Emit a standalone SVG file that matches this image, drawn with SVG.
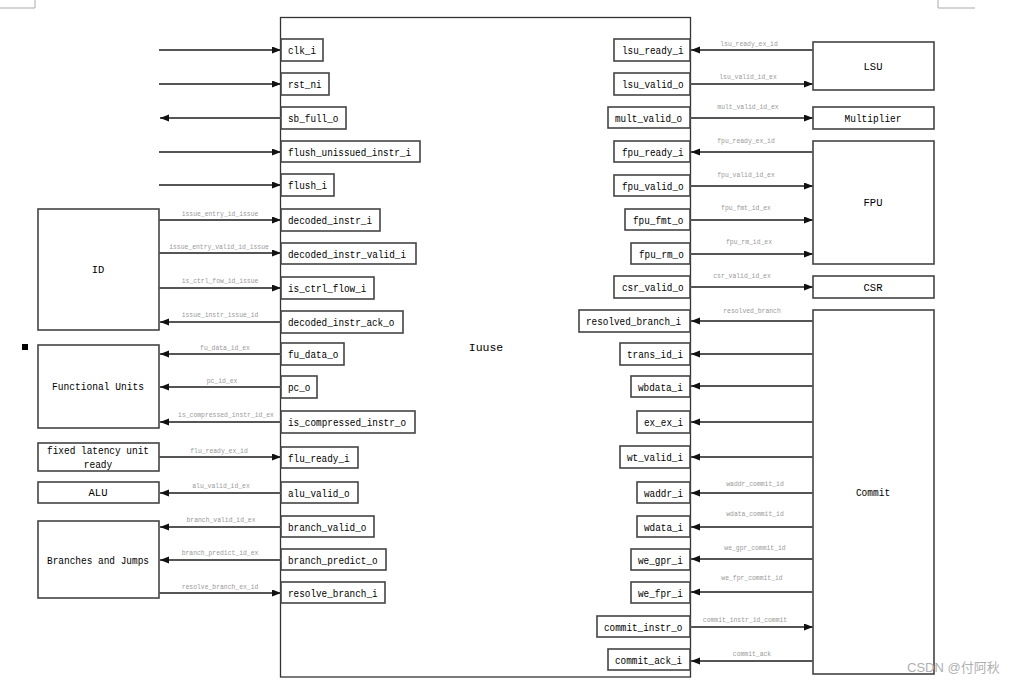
<svg xmlns="http://www.w3.org/2000/svg" width="1023" height="684" viewBox="0 0 1023 684">
<style>
.bx{fill:#fff;stroke:#444;stroke-width:1.6}
.pt{font-family:"Liberation Mono",monospace;font-size:10.5px;fill:#000}
.bl{font-family:"Liberation Mono",monospace;font-size:10.5px;fill:#000;text-anchor:middle}
.lb{font-family:"Liberation Mono",monospace;font-size:6.4px;fill:#999;text-anchor:middle}
.ln{stroke:#555;stroke-width:1.8;fill:none;marker-end:url(#ah)}
.cm{stroke:#aaa;stroke-width:1;fill:none}
</style>
<defs>
<marker id="ah" markerUnits="userSpaceOnUse" markerWidth="10" markerHeight="8" refX="9" refY="3.5" orient="auto">
<path d="M0,0 L9,3.5 L0,7 z" fill="#111"/>
</marker>
</defs>
<rect width="1023" height="684" fill="#fff"/>
<g id="cropmarks">
<path class="cm" d="M35,0 V8 H0"/>
<path class="cm" d="M938,0 V8 H975"/>
</g>
<rect x="22" y="344" width="6" height="6" fill="#000"/>
<g id="issue">
<rect x="280.5" y="17.5" width="410" height="659.5" fill="#fff" stroke="#333" stroke-width="1.3"/>
<text class="bl" x="486" y="351" style="font-size:11.5px">Iuuse</text>
</g>
<g id="ID"><rect class="bx" x="38" y="209" width="121" height="121"/><text class="bl" x="98" y="273">ID</text></g>
<g id="FunctionalUnits"><rect class="bx" x="38" y="345" width="121" height="83"/><text class="bl" x="98" y="390" textLength="92" lengthAdjust="spacingAndGlyphs">Functional Units</text></g>
<g id="FixedLatency"><rect class="bx" x="38" y="443" width="121" height="28"/><text class="bl" x="98" y="454" textLength="102" lengthAdjust="spacingAndGlyphs">fixed latency unit</text><text class="bl" x="98" y="468" textLength="28.5" lengthAdjust="spacingAndGlyphs">ready</text></g>
<g id="ALU"><rect class="bx" x="38" y="482" width="121" height="21"/><text class="bl" x="98" y="496">ALU</text></g>
<g id="Branches"><rect class="bx" x="38" y="521" width="121" height="77"/><text class="bl" x="98" y="564" textLength="102" lengthAdjust="spacingAndGlyphs">Branches and Jumps</text></g>
<g id="LSU"><rect class="bx" x="813" y="42" width="121" height="48"/><text class="bl" x="873" y="70">LSU</text></g>
<g id="Multiplier"><rect class="bx" x="813" y="107" width="121" height="22"/><text class="bl" x="873" y="122" textLength="57" lengthAdjust="spacingAndGlyphs">Multiplier</text></g>
<g id="FPU"><rect class="bx" x="813" y="141" width="121" height="123"/><text class="bl" x="873" y="206">FPU</text></g>
<g id="CSR"><rect class="bx" x="813" y="276" width="121" height="22"/><text class="bl" x="873" y="291">CSR</text></g>
<g id="Commit"><rect class="bx" x="813" y="310" width="121" height="364"/><text class="bl" x="873" y="496" textLength="34.2" lengthAdjust="spacingAndGlyphs">Commit</text></g>
<g id="leftports">
<g id="p_clk_i"><rect class="bx" x="281" y="39" width="42" height="22"/><text class="pt" x="288" y="54" textLength="28" lengthAdjust="spacingAndGlyphs">clk_i</text></g>
<g id="p_rst_ni"><rect class="bx" x="281" y="73" width="48" height="22"/><text class="pt" x="288" y="88" textLength="33.6" lengthAdjust="spacingAndGlyphs">rst_ni</text></g>
<g id="p_sb_full_o"><rect class="bx" x="281" y="107" width="65" height="22"/><text class="pt" x="288" y="122" textLength="50.4" lengthAdjust="spacingAndGlyphs">sb_full_o</text></g>
<g id="p_flush_unissued_instr_i"><rect class="bx" x="281" y="141" width="139" height="21"/><text class="pt" x="288" y="155.5" textLength="123" lengthAdjust="spacingAndGlyphs">flush_unissued_instr_i</text></g>
<g id="p_flush_i"><rect class="bx" x="281" y="174" width="53" height="22"/><text class="pt" x="288" y="189" textLength="39.2" lengthAdjust="spacingAndGlyphs">flush_i</text></g>
<g id="p_decoded_instr_i"><rect class="bx" x="281" y="209" width="99" height="22"/><text class="pt" x="288" y="224" textLength="84" lengthAdjust="spacingAndGlyphs">decoded_instr_i</text></g>
<g id="p_decoded_instr_valid_i"><rect class="bx" x="281" y="243" width="135" height="21"/><text class="pt" x="288" y="257.5" textLength="118" lengthAdjust="spacingAndGlyphs">decoded_instr_valid_i</text></g>
<g id="p_is_ctrl_flow_i"><rect class="bx" x="281" y="277" width="93" height="22"/><text class="pt" x="288" y="292" textLength="78.4" lengthAdjust="spacingAndGlyphs">is_ctrl_flow_i</text></g>
<g id="p_decoded_instr_ack_o"><rect class="bx" x="281" y="311" width="122" height="22"/><text class="pt" x="288" y="326" textLength="106.4" lengthAdjust="spacingAndGlyphs">decoded_instr_ack_o</text></g>
<g id="p_fu_data_o"><rect class="bx" x="281" y="343" width="63" height="22"/><text class="pt" x="288" y="358" textLength="50.4" lengthAdjust="spacingAndGlyphs">fu_data_o</text></g>
<g id="p_pc_o"><rect class="bx" x="281" y="376" width="36" height="22"/><text class="pt" x="288" y="391" textLength="22.4" lengthAdjust="spacingAndGlyphs">pc_o</text></g>
<g id="p_is_compressed_instr_o"><rect class="bx" x="281" y="411" width="134" height="22"/><text class="pt" x="288" y="426" textLength="118" lengthAdjust="spacingAndGlyphs">is_compressed_instr_o</text></g>
<g id="p_flu_ready_i"><rect class="bx" x="281" y="447" width="77" height="21"/><text class="pt" x="288" y="461.5" textLength="61.6" lengthAdjust="spacingAndGlyphs">flu_ready_i</text></g>
<g id="p_alu_valid_o"><rect class="bx" x="281" y="482" width="77" height="21"/><text class="pt" x="288" y="496.5" textLength="61.6" lengthAdjust="spacingAndGlyphs">alu_valid_o</text></g>
<g id="p_branch_valid_o"><rect class="bx" x="281" y="516" width="93" height="21"/><text class="pt" x="288" y="530.5" textLength="78.4" lengthAdjust="spacingAndGlyphs">branch_valid_o</text></g>
<g id="p_branch_predict_o"><rect class="bx" x="281" y="549" width="105" height="21"/><text class="pt" x="288" y="563.5" textLength="89.6" lengthAdjust="spacingAndGlyphs">branch_predict_o</text></g>
<g id="p_resolve_branch_i"><rect class="bx" x="281" y="582" width="104" height="21"/><text class="pt" x="288" y="596.5" textLength="89.6" lengthAdjust="spacingAndGlyphs">resolve_branch_i</text></g>
</g>
<g id="rightports">
<g id="p_lsu_ready_i"><rect class="bx" x="614" y="39" width="76" height="22"/><text class="pt" x="622" y="54" textLength="61.6" lengthAdjust="spacingAndGlyphs">lsu_ready_i</text></g>
<g id="p_lsu_valid_o"><rect class="bx" x="614" y="73" width="76" height="22"/><text class="pt" x="622" y="88" textLength="61.6" lengthAdjust="spacingAndGlyphs">lsu_valid_o</text></g>
<g id="p_mult_valid_o"><rect class="bx" x="608" y="107" width="82" height="21"/><text class="pt" x="615" y="121.5" textLength="67.2" lengthAdjust="spacingAndGlyphs">mult_valid_o</text></g>
<g id="p_fpu_ready_i"><rect class="bx" x="614" y="141" width="76" height="21"/><text class="pt" x="622" y="155.5" textLength="61.6" lengthAdjust="spacingAndGlyphs">fpu_ready_i</text></g>
<g id="p_fpu_valid_o"><rect class="bx" x="614" y="175" width="76" height="21"/><text class="pt" x="622" y="189.5" textLength="61.6" lengthAdjust="spacingAndGlyphs">fpu_valid_o</text></g>
<g id="p_fpu_fmt_o"><rect class="bx" x="625" y="209" width="65" height="21"/><text class="pt" x="633" y="223.5" textLength="50.4" lengthAdjust="spacingAndGlyphs">fpu_fmt_o</text></g>
<g id="p_fpu_rm_o"><rect class="bx" x="631" y="243" width="59" height="21"/><text class="pt" x="639" y="257.5" textLength="44.8" lengthAdjust="spacingAndGlyphs">fpu_rm_o</text></g>
<g id="p_csr_valid_o"><rect class="bx" x="614" y="276" width="76" height="22"/><text class="pt" x="622" y="291" textLength="61.6" lengthAdjust="spacingAndGlyphs">csr_valid_o</text></g>
<g id="p_resolved_branch_i"><rect class="bx" x="579" y="310" width="111" height="22"/><text class="pt" x="586" y="325" textLength="95.2" lengthAdjust="spacingAndGlyphs">resolved_branch_i</text></g>
<g id="p_trans_id_i"><rect class="bx" x="620" y="343" width="70" height="22"/><text class="pt" x="627" y="358" textLength="56" lengthAdjust="spacingAndGlyphs">trans_id_i</text></g>
<g id="p_wbdata_i"><rect class="bx" x="631" y="376" width="59" height="21"/><text class="pt" x="638" y="390.5" textLength="44.8" lengthAdjust="spacingAndGlyphs">wbdata_i</text></g>
<g id="p_ex_ex_i"><rect class="bx" x="637" y="411" width="53" height="22"/><text class="pt" x="644" y="426" textLength="39.2" lengthAdjust="spacingAndGlyphs">ex_ex_i</text></g>
<g id="p_wt_valid_i"><rect class="bx" x="620" y="446" width="70" height="22"/><text class="pt" x="627" y="461" textLength="56" lengthAdjust="spacingAndGlyphs">wt_valid_i</text></g>
<g id="p_waddr_i"><rect class="bx" x="637" y="482" width="53" height="21"/><text class="pt" x="644" y="496.5" textLength="39.2" lengthAdjust="spacingAndGlyphs">waddr_i</text></g>
<g id="p_wdata_i"><rect class="bx" x="637" y="516" width="53" height="21"/><text class="pt" x="644" y="530.5" textLength="39.2" lengthAdjust="spacingAndGlyphs">wdata_i</text></g>
<g id="p_we_gpr_i"><rect class="bx" x="631" y="549" width="59" height="21"/><text class="pt" x="638" y="563.5" textLength="44.8" lengthAdjust="spacingAndGlyphs">we_gpr_i</text></g>
<g id="p_we_fpr_i"><rect class="bx" x="631" y="582" width="59" height="21"/><text class="pt" x="638" y="596.5" textLength="44.8" lengthAdjust="spacingAndGlyphs">we_fpr_i</text></g>
<g id="p_commit_instr_o"><rect class="bx" x="597" y="616" width="93" height="21"/><text class="pt" x="604" y="630.5" textLength="78.4" lengthAdjust="spacingAndGlyphs">commit_instr_o</text></g>
<g id="p_commit_ack_i"><rect class="bx" x="608" y="649" width="82" height="21"/><text class="pt" x="615" y="663.5" textLength="67.2" lengthAdjust="spacingAndGlyphs">commit_ack_i</text></g>
</g>
<g id="connectors">
<line class="ln" x1="159" y1="50" x2="281" y2="50"/>
<line class="ln" x1="159" y1="84" x2="281" y2="84"/>
<line class="ln" x1="281" y1="118" x2="160" y2="118"/>
<line class="ln" x1="159" y1="152" x2="281" y2="152"/>
<line class="ln" x1="159" y1="185" x2="281" y2="185"/>
<line class="ln" x1="159" y1="220" x2="281" y2="220"/>
<line class="ln" x1="159" y1="253" x2="281" y2="253"/>
<line class="ln" x1="159" y1="288" x2="281" y2="288"/>
<line class="ln" x1="281" y1="322" x2="160" y2="322"/>
<line class="ln" x1="281" y1="354" x2="160" y2="354"/>
<line class="ln" x1="281" y1="387" x2="160" y2="387"/>
<line class="ln" x1="281" y1="422" x2="160" y2="422"/>
<line class="ln" x1="159" y1="457" x2="281" y2="457"/>
<line class="ln" x1="281" y1="493" x2="160" y2="493"/>
<line class="ln" x1="281" y1="527" x2="160" y2="527"/>
<line class="ln" x1="281" y1="560" x2="160" y2="560"/>
<line class="ln" x1="159" y1="593" x2="281" y2="593"/>
<line class="ln" x1="813" y1="50" x2="691" y2="50"/>
<line class="ln" x1="690" y1="84" x2="813" y2="84"/>
<line class="ln" x1="690" y1="118" x2="813" y2="118"/>
<line class="ln" x1="813" y1="152" x2="691" y2="152"/>
<line class="ln" x1="690" y1="186" x2="813" y2="186"/>
<line class="ln" x1="690" y1="220" x2="813" y2="220"/>
<line class="ln" x1="690" y1="254" x2="813" y2="254"/>
<line class="ln" x1="690" y1="287" x2="813" y2="287"/>
<line class="ln" x1="813" y1="321" x2="691" y2="321"/>
<line class="ln" x1="813" y1="354" x2="691" y2="354"/>
<line class="ln" x1="813" y1="386" x2="691" y2="386"/>
<line class="ln" x1="813" y1="422" x2="691" y2="422"/>
<line class="ln" x1="813" y1="457" x2="691" y2="457"/>
<line class="ln" x1="813" y1="493" x2="691" y2="493"/>
<line class="ln" x1="813" y1="527" x2="691" y2="527"/>
<line class="ln" x1="813" y1="559" x2="691" y2="559"/>
<line class="ln" x1="813" y1="592" x2="691" y2="592"/>
<line class="ln" x1="690" y1="627" x2="813" y2="627"/>
<line class="ln" x1="813" y1="661" x2="691" y2="661"/>
<g id="connector-labels">
<text class="lb" x="220" y="216">issue_entry_id_issue</text>
<text class="lb" x="219" y="249">issue_entry_valid_id_issue</text>
<text class="lb" x="220" y="283">is_ctrl_fow_id_issue</text>
<text class="lb" x="220" y="317">issue_instr_issue_id</text>
<text class="lb" x="225" y="350">fu_data_id_ex</text>
<text class="lb" x="222" y="383">pc_id_ex</text>
<text class="lb" x="226" y="417">is_compressed_instr_id_ex</text>
<text class="lb" x="219" y="453">flu_ready_ex_id</text>
<text class="lb" x="221" y="488">alu_valid_id_ex</text>
<text class="lb" x="221" y="522">branch_valid_id_ex</text>
<text class="lb" x="220" y="555">branch_predict_id_ex</text>
<text class="lb" x="220" y="589">resolve_branch_ex_id</text>
<text class="lb" x="749" y="46">lsu_ready_ex_id</text>
<text class="lb" x="748" y="79">lsu_valid_id_ex</text>
<text class="lb" x="748" y="109">mult_valid_id_ex</text>
<text class="lb" x="746" y="143">fpu_ready_ex_id</text>
<text class="lb" x="746" y="177">fpu_valid_id_ex</text>
<text class="lb" x="746" y="210">fpu_fmt_id_ex</text>
<text class="lb" x="749" y="244">fpu_rm_id_ex</text>
<text class="lb" x="742" y="278">csr_valid_id_ex</text>
<text class="lb" x="752" y="313">resolved_branch</text>
<text class="lb" x="755" y="486">waddr_commit_id</text>
<text class="lb" x="755" y="516">wdata_commit_id</text>
<text class="lb" x="755" y="550">we_gpr_commit_id</text>
<text class="lb" x="752" y="580">we_fpr_commit_id</text>
<text class="lb" x="745" y="622">commit_instr_id_commit</text>
<text class="lb" x="752" y="656">commit_ack</text>
</g>
</g>
<text x="907" y="672" font-family="'Liberation Sans','Noto Sans CJK SC',sans-serif" font-size="13" fill="#b0b0b0">CSDN @付阿秋</text>
</svg>
